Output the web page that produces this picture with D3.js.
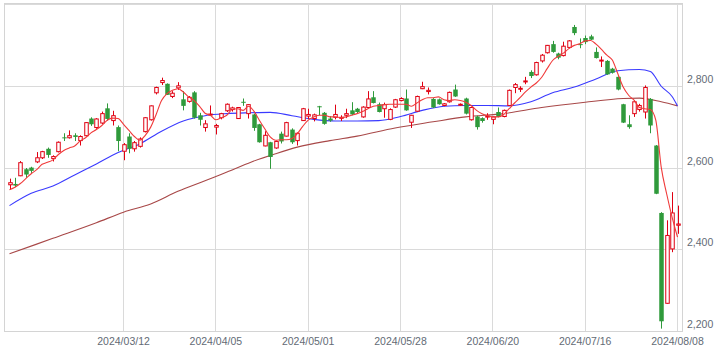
<!DOCTYPE html>
<html>
<head>
<meta charset="utf-8">
<script src="https://cdn.jsdelivr.net/npm/d3@7/dist/d3.min.js"></script>
<style>
  html, body { margin: 0; padding: 0; background: #fff; }
  svg { display: block; }
  .tick_label { font-family: 'Liberation Sans', Arial, sans-serif; font-size: 10.5px; fill: #636b75; }
</style>
</head>
<body>
<div id="chart"></div>
<script>
// trading days shown (Tokyo market), by month
const tradingDays = [
  ['2024/02', [8, 9, 13, 14, 15, 16, 19, 20, 21, 22, 26, 27, 28, 29]],
  ['2024/03', [1, 4, 5, 6, 7, 8, 11, 12, 13, 14, 15, 18, 19, 21, 22, 25, 26, 27, 28, 29]],
  ['2024/04', [1, 2, 3, 4, 5, 8, 9, 10, 11, 12, 15, 16, 17, 18, 19, 22, 23, 24, 25, 26, 30]],
  ['2024/05', [1, 2, 7, 8, 9, 10, 13, 14, 15, 16, 17, 20, 21, 22, 23, 24, 27, 28, 29, 30, 31]],
  ['2024/06', [3, 4, 5, 6, 7, 10, 11, 12, 13, 14, 17, 18, 19, 20, 21, 24, 25, 26, 27, 28]],
  ['2024/07', [1, 2, 3, 4, 5, 8, 9, 10, 11, 12, 16, 17, 18, 19, 22, 23, 24, 25, 26, 29, 30, 31]],
  ['2024/08', [1, 2, 5, 6, 7, 8]]
];

const open = [
  2559, 2561, 2581, 2597, 2601, 2615, 2625, 2647, 2623, 2640, 2675, 2674, 2680, 2667, 2679, 2721, 2699, 2710, 2746, 2716,
  2700, 2641, 2677, 2647, 2653, 2689, 2718, 2784, 2809, 2806, 2775, 2796, 2768, 2763, 2785, 2729, 2699, 2730, 2700, 2723,
  2740, 2743, 2721, 2762, 2733, 2731, 2707, 2654, 2663, 2649, 2684, 2678, 2694, 2667, 2716, 2727, 2721, 2751, 2735, 2721,
  2724, 2722, 2729, 2741, 2745, 2725, 2748, 2773, 2756, 2745, 2719, 2749, 2765, 2770, 2712, 2739, 2794, 2787, 2769, 2768,
  2753, 2762, 2792, 2754, 2770, 2718, 2726, 2722, 2725, 2719, 2737, 2726, 2753, 2797, 2793, 2811, 2835, 2828, 2862, 2882,
  2903, 2880, 2875, 2895, 2945, 2903, 2918, 2922, 2884, 2862, 2862, 2843, 2823, 2756, 2707, 2733, 2743, 2737, 2769, 2655,
  2490, 2269, 2402, 2460
];
const high = [
  2574, 2576, 2617, 2600, 2603, 2639, 2642, 2650, 2631, 2665, 2685, 2692, 2685, 2680, 2712, 2724, 2722, 2738, 2758, 2740,
  2704, 2661, 2685, 2666, 2675, 2724, 2753, 2799, 2821, 2807, 2788, 2810, 2788, 2776, 2788, 2735, 2717, 2753, 2708, 2735,
  2758, 2750, 2749, 2770, 2756, 2733, 2708, 2690, 2664, 2667, 2689, 2713, 2697, 2687, 2747, 2745, 2733, 2752, 2737, 2727,
  2755, 2729, 2745, 2761, 2747, 2751, 2788, 2788, 2760, 2760, 2746, 2769, 2773, 2792, 2730, 2777, 2811, 2797, 2771, 2770,
  2759, 2787, 2804, 2758, 2772, 2750, 2728, 2724, 2734, 2726, 2748, 2743, 2792, 2808, 2800, 2823, 2839, 2860, 2879, 2901,
  2911, 2882, 2909, 2913, 2950, 2917, 2924, 2926, 2895, 2873, 2864, 2845, 2824, 2757, 2729, 2765, 2757, 2802, 2771, 2656,
  2492, 2472, 2541, 2508
];
const low = [
  2547, 2553, 2580, 2576, 2588, 2612, 2622, 2625, 2616, 2638, 2666, 2672, 2666, 2655, 2677, 2703, 2696, 2707, 2716, 2704,
  2641, 2619, 2636, 2640, 2650, 2687, 2716, 2780, 2803, 2779, 2771, 2791, 2741, 2760, 2721, 2704, 2689, 2728, 2682, 2719,
  2737, 2738, 2720, 2752, 2721, 2691, 2662, 2653, 2598, 2647, 2660, 2677, 2659, 2655, 2715, 2720, 2714, 2729, 2706, 2713,
  2719, 2715, 2722, 2729, 2734, 2723, 2746, 2758, 2736, 2723, 2717, 2747, 2763, 2740, 2698, 2737, 2793, 2780, 2747, 2755,
  2751, 2760, 2774, 2752, 2731, 2716, 2694, 2711, 2718, 2707, 2724, 2724, 2752, 2783, 2786, 2805, 2820, 2826, 2858, 2880,
  2882, 2866, 2873, 2893, 2925, 2893, 2903, 2913, 2868, 2847, 2828, 2831, 2790, 2710, 2696, 2725, 2738, 2721, 2685, 2536,
  2207, 2268, 2394, 2439
];
const close = [
  2564, 2557, 2613, 2584, 2593, 2625, 2640, 2632, 2628, 2663, 2673, 2679, 2676, 2677, 2711, 2707, 2720, 2733, 2720, 2728,
  2666, 2657, 2647, 2662, 2671, 2723, 2752, 2797, 2814, 2779, 2783, 2801, 2752, 2773, 2723, 2718, 2708, 2732, 2704, 2733,
  2756, 2747, 2748, 2760, 2755, 2698, 2663, 2680, 2627, 2665, 2665, 2711, 2663, 2685, 2745, 2731, 2730, 2749, 2708, 2716,
  2731, 2724, 2733, 2731, 2737, 2749, 2769, 2759, 2737, 2755, 2743, 2767, 2770, 2741, 2729, 2775, 2799, 2790, 2748, 2756,
  2757, 2785, 2775, 2756, 2733, 2748, 2700, 2715, 2727, 2725, 2725, 2741, 2790, 2804, 2795, 2813, 2825, 2858, 2876, 2900,
  2884, 2870, 2898, 2911, 2930, 2901, 2908, 2914, 2869, 2864, 2829, 2833, 2792, 2711, 2700, 2762, 2753, 2797, 2704, 2537,
  2225, 2435, 2490, 2463
];

// short moving average, one value per day
const ma5 = [
  2547, 2553, 2562, 2574, 2586, 2596, 2609, 2614, 2620, 2633, 2643, 2649, 2654, 2666, 2674, 2686, 2694, 2704, 2717, 2722,
  2721, 2707, 2692, 2677, 2668, 2680, 2700, 2731, 2765, 2782, 2790, 2794, 2786, 2774, 2765, 2751, 2734, 2729, 2718, 2723,
  2729, 2743, 2745, 2741, 2751, 2739, 2717, 2696, 2676, 2668, 2669, 2669, 2672, 2684, 2702, 2717, 2725, 2729, 2729, 2725,
  2725, 2723, 2725, 2729, 2733, 2738, 2745, 2751, 2753, 2755, 2756, 2756, 2756, 2756, 2751, 2759, 2767, 2772, 2772, 2774,
  2767, 2765, 2767, 2765, 2761, 2753, 2741, 2733, 2728, 2725, 2725, 2731, 2745, 2759, 2772, 2786, 2798, 2808, 2822, 2843,
  2863, 2873, 2881, 2892, 2900, 2904, 2911, 2912, 2903, 2890, 2876, 2864, 2831, 2798, 2778, 2766, 2748, 2745, 2743, 2717,
  2602, 2537, 2480, 2431
];

// medium and long moving averages, sampled off the chart
const ma25 = [
  ['2024/02/08', 2508], ['2024/02/15', 2538], ['2024/02/21', 2556], ['2024/02/28', 2583], ['2024/03/05', 2610],
  ['2024/03/11', 2638], ['2024/03/15', 2659], ['2024/03/22', 2690], ['2024/03/28', 2715], ['2024/04/03', 2728],
  ['2024/04/09', 2733], ['2024/04/15', 2735], ['2024/04/19', 2736], ['2024/04/25', 2728], ['2024/05/02', 2719],
  ['2024/05/10', 2715], ['2024/05/16', 2715], ['2024/05/22', 2716], ['2024/05/28', 2726], ['2024/06/03', 2741],
  ['2024/06/07', 2751], ['2024/06/13', 2753], ['2024/06/19', 2753], ['2024/06/25', 2752], ['2024/07/01', 2762],
  ['2024/07/05', 2784], ['2024/07/11', 2798], ['2024/07/18', 2818], ['2024/07/24', 2838], ['2024/07/30', 2841],
  ['2024/08/01', 2836], ['2024/08/05', 2800], ['2024/08/07', 2775], ['2024/08/08', 2752]
];
const ma75 = [
  ['2024/02/08', 2390], ['2024/02/21', 2428], ['2024/03/05', 2466], ['2024/03/12', 2492], ['2024/03/19', 2512],
  ['2024/03/27', 2543], ['2024/04/03', 2569], ['2024/04/10', 2595], ['2024/04/16', 2617], ['2024/04/22', 2635],
  ['2024/04/26', 2651], ['2024/05/09', 2667], ['2024/05/16', 2678], ['2024/05/27', 2698], ['2024/06/05', 2713],
  ['2024/06/13', 2725], ['2024/06/24', 2733], ['2024/07/03', 2748], ['2024/07/16', 2761], ['2024/07/25', 2770],
  ['2024/07/30', 2771], ['2024/08/05', 2762], ['2024/08/08', 2752]
];

const xTickLabels = ['2024/03/12', '2024/04/05', '2024/05/01', '2024/05/28', '2024/06/20', '2024/07/16', '2024/08/08'];
const yTicks = [2200, 2400, 2600, 2800];
const yDomain = [2200, 3000];

const width = 724;
const height = 363;
const plot = {left: 4.5, top: 3.5, right: 682.5, bottom: 331.5};

const dates = tradingDays.flatMap(([month, days]) => days.map(d => `${month}/${String(d).padStart(2, '0')}`));
const candles = dates.map((date, i) => ({date, open: open[i], high: high[i], low: low[i], close: close[i]}));

const svg = d3.select('#chart').append('svg')
  .attr('width', width)
  .attr('height', height);

const x = d3.scalePoint()
  .domain(dates)
  .range([9.5, 677.5]);

const y = d3.scaleLinear()
  .domain(yDomain)
  .range([plot.bottom, plot.top + 1]);

const snap = v => Math.round(v - 0.5) + 0.5;

// grid
const grid = svg.append('g').attr('stroke', '#dadada').attr('stroke-width', 1);
grid.selectAll('.hgrid')
  .data(yTicks.concat([3000]))
  .enter().append('line')
  .attr('x1', plot.left).attr('x2', plot.right)
  .attr('y1', d => snap(y(d))).attr('y2', d => snap(y(d)));
grid.selectAll('.vgrid')
  .data(xTickLabels)
  .enter().append('line')
  .attr('x1', d => snap(x(d))).attr('x2', d => snap(x(d)))
  .attr('y1', plot.top).attr('y2', plot.bottom);
svg.append('rect')
  .attr('x', plot.left).attr('y', plot.top)
  .attr('width', plot.right - plot.left).attr('height', plot.bottom - plot.top)
  .attr('fill', 'none').attr('stroke', '#d4d4d4');

// axis labels
svg.append('g').selectAll('text')
  .data(yTicks)
  .enter().append('text')
  .attr('class', 'tick_label')
  .attr('x', 687)
  .attr('y', d => y(d) - 3.5)
  .text(d => d3.format(',')(d));

svg.append('g').selectAll('text')
  .data(xTickLabels)
  .enter().append('text')
  .attr('class', 'tick_label')
  .attr('x', d => x(d))
  .attr('y', 344.5)
  .attr('text-anchor', 'middle')
  .text(d => d);

// moving averages
const line = d3.line()
  .x(d => x(d[0]))
  .y(d => y(d[1]))
  .curve(d3.curveMonotoneX);

svg.append('path')
  .datum(ma75)
  .attr('d', line)
  .attr('fill', 'none')
  .attr('stroke', '#a84848')
  .attr('stroke-width', 1.1);

svg.append('path')
  .datum(ma25)
  .attr('d', line)
  .attr('fill', 'none')
  .attr('stroke', '#3a3aff')
  .attr('stroke-width', 1.1);

// candles
const red = '#e00012';
const green = '#2f9a3b';
const candle = svg.append('g').selectAll('g')
  .data(candles)
  .enter().append('g')
  .attr('transform', d => `translate(${Math.round(x(d.date)) + 0.5},0)`);

candle.append('line')
  .attr('y1', d => y(d.high))
  .attr('y2', d => y(d.low))
  .attr('stroke', d => d.close >= d.open ? red : green)
  .attr('stroke-width', 1);

candle.append('rect')
  .attr('x', d => d.close >= d.open ? -1.75 : -2.25)
  .attr('y', d => y(Math.max(d.open, d.close)))
  .attr('width', d => d.close >= d.open ? 3.5 : 4.5)
  .attr('height', d => Math.max(1, y(Math.min(d.open, d.close)) - y(Math.max(d.open, d.close))))
  .attr('fill', d => d.close >= d.open ? '#fff' : green)
  .attr('stroke', d => d.close >= d.open ? red : 'none')
  .attr('stroke-width', 1);

// short average on top
svg.append('path')
  .datum(ma5.map((v, i) => [dates[i], v]))
  .attr('d', line)
  .attr('fill', 'none')
  .attr('stroke', '#f03a3a')
  .attr('stroke-width', 1.1);
</script>
</body>
</html>
